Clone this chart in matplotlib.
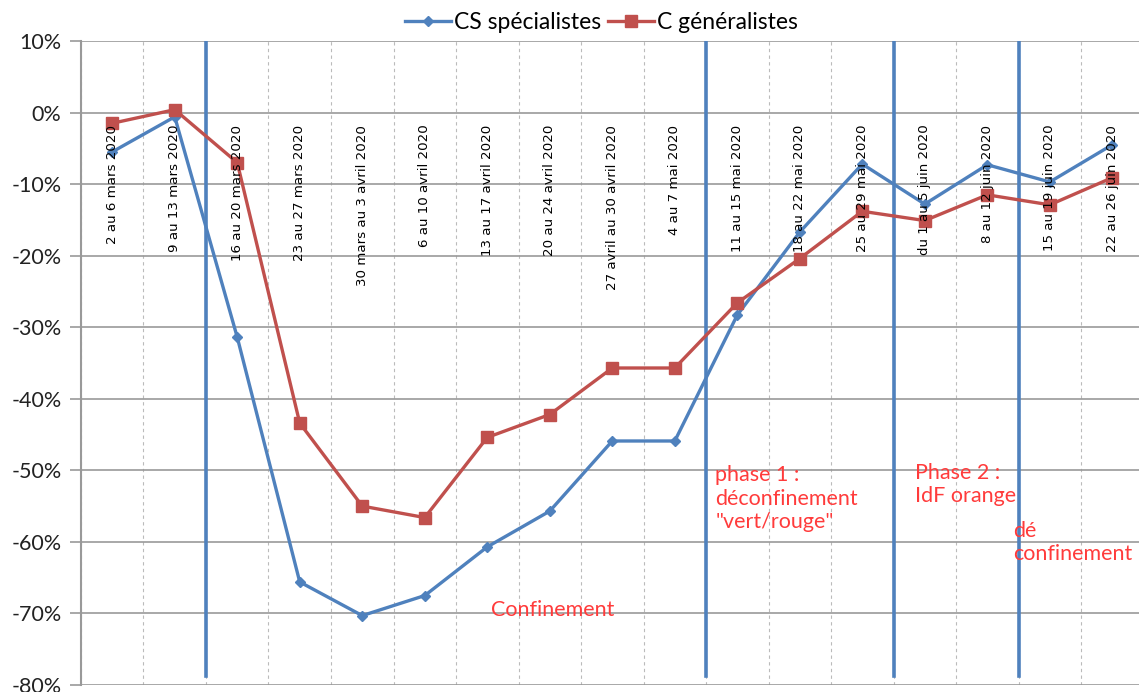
import matplotlib.pyplot as plt
import numpy as np

# semaines (libellés de l'axe x)
semaines = ["2 au 6 mars 2020", "9 au 13 mars 2020", "16 au 20 mars 2020",
            "23 au 27 mars 2020", "30 mars au 3 avril 2020", "6 au 10 avril 2020",
            "13 au 17 avril 2020", "20 au 24 avril 2020", "27 avril au 30 avril 2020",
            "4 au 7 mai 2020", "11 au 15 mai 2020", "18 au 22 mai 2020",
            "25 au 29 mai 2020", "du 1 au 5 juin 2020", "8 au 12 juin 2020",
            "15 au 19 juin 2020", "22 au 26 juin 2020"]

# évolution en %
cs_specialistes = [-5.5, -0.6, -31.4, -65.6, -70.3, -67.5, -60.7, -55.7, -45.9,
                   -45.9, -28.3, -16.7, -7.2, -12.8, -7.3, -9.7, -4.5]
c_generalistes = [-1.5, 0.4, -7.0, -43.4, -55.0, -56.6, -45.4, -42.2, -35.7,
                  -35.7, -26.6, -20.4, -13.8, -15.1, -11.5, -12.9, -9.1]

# séparations des phases (entre deux semaines)
phases = [1.5, 9.5, 12.5, 14.5]
y_ticks = np.arange(-80, 11, 10)

bleu = "#4F81BD"
rouge = "#C0504D"
texte_rouge = "#FF3B3B"

fig = plt.figure(figsize=(11.39, 6.92), dpi=100)
ax = fig.add_axes([0.0711, 0.0101, 0.9329, 0.9307])

x = np.arange(len(semaines))
ax.plot(x, cs_specialistes, color=bleu, lw=2.4, marker="D", ms=5.5,
        label="CS spécialistes", zorder=4)
ax.plot(x, c_generalistes, color=rouge, lw=2.4, marker="s", ms=8,
        label="C généralistes", zorder=4)

# lignes verticales des phases
for p in phases:
    ax.plot([p, p], [10, -78.8], color=bleu, lw=2.6, zorder=3)

ax.set_xlim(-0.5, len(semaines) - 0.5)
ax.set_ylim(-80, 10)
ax.set_yticks(y_ticks)
ax.set_yticklabels([f"{v}%" for v in y_ticks], fontsize=15.5,
                   family=["Lato", "DejaVu Sans"], color="#222222")
ax.set_xticks(np.arange(-0.5, len(semaines), 1), minor=True)
ax.set_xticks([])
ax.tick_params(axis="y", length=8, color="#999999", width=1.2, pad=6)
ax.tick_params(axis="x", which="minor", length=0)

ax.grid(axis="y", color="#999999", lw=1.2, zorder=0)
ax.grid(axis="x", which="minor", color="#BBBBBB", lw=0.8, ls=(0, (3, 3)), zorder=0)
for s in ["top", "right", "bottom"]:
    ax.spines[s].set_visible(False)
ax.spines["left"].set_color("#999999")
ax.spines["left"].set_linewidth(1.5)

# libellés des semaines dans le graphique
for i, lab in enumerate(semaines):
    ax.text(i, -1.7, lab, rotation=90, ha="center", va="top", fontsize=9.6,
            family=["Liberation Sans Narrow", "DejaVu Sans"], zorder=5)

# annotations
fnt = ["Lato", "DejaVu Sans"]
ax.text(7.05, -69.5, "Confinement", color=texte_rouge, fontsize=15.5, ha="center",
        va="center", family=fnt)
ax.text(9.65, -49.3, "phase 1 :\ndéconfinement\n\"vert/rouge\"", color=texte_rouge,
        fontsize=15.5, ha="left", va="top", family=fnt, linespacing=1.2)
ax.text(12.85, -49.0, "Phase 2 :\nIdF orange", color=texte_rouge, fontsize=15.5,
        ha="left", va="top", family=fnt, linespacing=1.2)
ax.text(14.42, -57.1, "dé\nconfinement", color=texte_rouge, fontsize=15.5,
        ha="left", va="top", family=fnt, linespacing=1.2)

leg = fig.legend(loc="upper center", bbox_to_anchor=(0.528, 1.012), ncol=2, frameon=False,
                 prop={"family": "Lato", "size": 16.5}, handlelength=2.0,
                 columnspacing=0.3, handletextpad=0.15)

fig.savefig("out.png", dpi=100)
